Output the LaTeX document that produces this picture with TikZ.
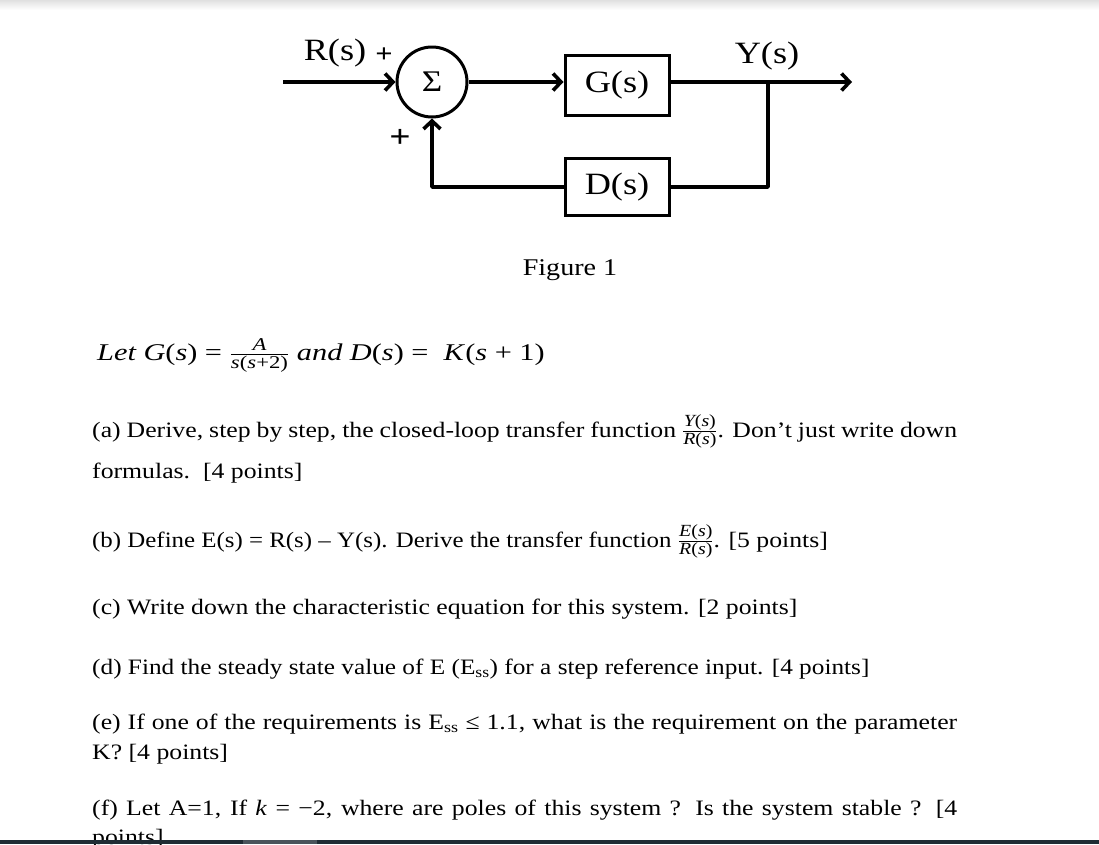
\RequirePackage{fix-cm}
\documentclass[tikz,border=0pt]{standalone}
\usepackage{amsmath}
\usepackage{fontspec}
\setmainfont{Liberation Serif}[FakeStretch=1.17]
\usetikzlibrary{arrows.meta}
\newcommand{\bodysz}{\fontsize{22}{26}\selectfont}
\newcommand{\ii}[1]{\textit{#1}}
\newcommand{\tfr}[2]{$\frac{\text{\fontsize{17}{18}\selectfont #1}}{\text{\fontsize{17}{18}\selectfont #2}}$}
\newcommand{\lfr}[2]{$\frac{\text{\fontsize{18}{19}\selectfont #1}}{\text{\fontsize{18}{19}\selectfont #2}}$}
\definecolor{barcol}{HTML}{1F2C34}
\definecolor{barlight}{HTML}{4A545B}
\begin{document}
\begin{tikzpicture}[x=1pt,y=-1pt,
 wire/.style={line width=3.6pt, line join=round},
 arr/.style={-{Straight Barb[length=8pt,width=17pt]}},
 blk/.style={draw, line width=3pt, minimum width=104pt, minimum height=60pt, inner sep=0pt, font=\fontsize{31}{34}\selectfont},
 sumc/.style={draw, circle, line width=3pt, minimum size=70pt, inner sep=0pt, font=\fontsize{30}{32}\selectfont},
 lbl/.style={inner sep=0pt, font=\fontsize{31}{34}\selectfont},
 txt/.style={anchor=base west, inner sep=0pt, font=\bodysz},
]
\useasboundingbox (0,0) rectangle (1099,844);
\fill[white] (0,0) rectangle (1099,844);
\shade[top color=black!12, bottom color=white] (0,0) rectangle (1099,10);
% block diagram
\node[sumc] (sum) at (432,82) {Σ};
\node[blk] (G) at (617,85) {G(s)};
\node[blk, minimum height=57pt] (D) at (617,187) {D(s)};
\coordinate (in) at (283,82);
\coordinate (out) at (852,82);
\coordinate (br) at (768,82);
\draw[wire,arr] (in) -- (sum.west);
\draw[wire,arr] (sum.east) -- (sum.east -| G.west);
\draw[wire,arr] (G.east |- sum.east) -- (out);
\draw[wire] (br) |- (D.east);
\draw[wire,arr] (D.west) -| (sum.south);
\node[lbl] (R) at (335,53) {R(s)};
\node[lbl] (Y) at (767,56) {Y(s)};
\node[inner sep=0pt, font=\fontsize{26}{28}\selectfont\bfseries] (p1) at (384,55) {+};
\node[inner sep=0pt, font=\fontsize{32}{34}\selectfont\bfseries] (p2) at (400,138) {+};
\node[inner sep=0pt, font=\fontsize{24}{26}\selectfont] (fig) at (570,270) {Figure 1};
% text
\node[txt, font=\fontsize{24}{28}\selectfont] (let) at (97,360) {\scalebox{1.08}[1]{\ii{Let G}(\ii{s}) = \lfr{\itshape A}{\itshape s\upshape(\itshape s\upshape+2)} \ii{and D}(\ii{s}) =\ \ \ii{K}(\ii{s} + 1)}};
\node[txt] (qa) at (92,437) {\makebox[865pt][s]{(a) Derive, step by step, the closed-loop transfer function \tfr{\itshape Y\upshape(\itshape s\upshape)}{\itshape R\upshape(\itshape s\upshape)}. Don’t just write down}};
\node[txt] (qa2) at (92,478) {formulas.\ \ [4 points]};
\node[txt] (qb) at (92,547) {\scalebox{0.967}[1]{(b) Define E(s) = R(s) – Y(s). Derive the transfer function} \tfr{\itshape E\upshape(\itshape s\upshape)}{\itshape R\upshape(\itshape s\upshape)}. [5 points]};
\node[txt] (qc) at (92,614) {(c) Write down the characteristic equation for this system. [2 points]};
\node[txt] (qd) at (92,674) {\scalebox{0.982}[1]{(d) Find the steady state value of E (E\textsubscript{ss}) for a step reference input. [4 points]}};
\node[txt] (qe) at (92,729) {\makebox[865pt][s]{(e) If one of the requirements is E\textsubscript{ss} ≤ 1.1, what is the requirement on the parameter}};
\node[txt] (qe2) at (92,759) {K? [4 points]};
\node[txt] (qf) at (92,815) {\makebox[865pt][s]{(f) Let A=1, If \ii{k} = −2, where are poles of this system ? Is the system stable ? [4}};
\node[txt] (qf2) at (92,844) {points]};
\fill[barcol] (0,840) rectangle (1099,844);
\fill[barlight] (243,840) rectangle (317,844);
\end{tikzpicture}
\end{document}
